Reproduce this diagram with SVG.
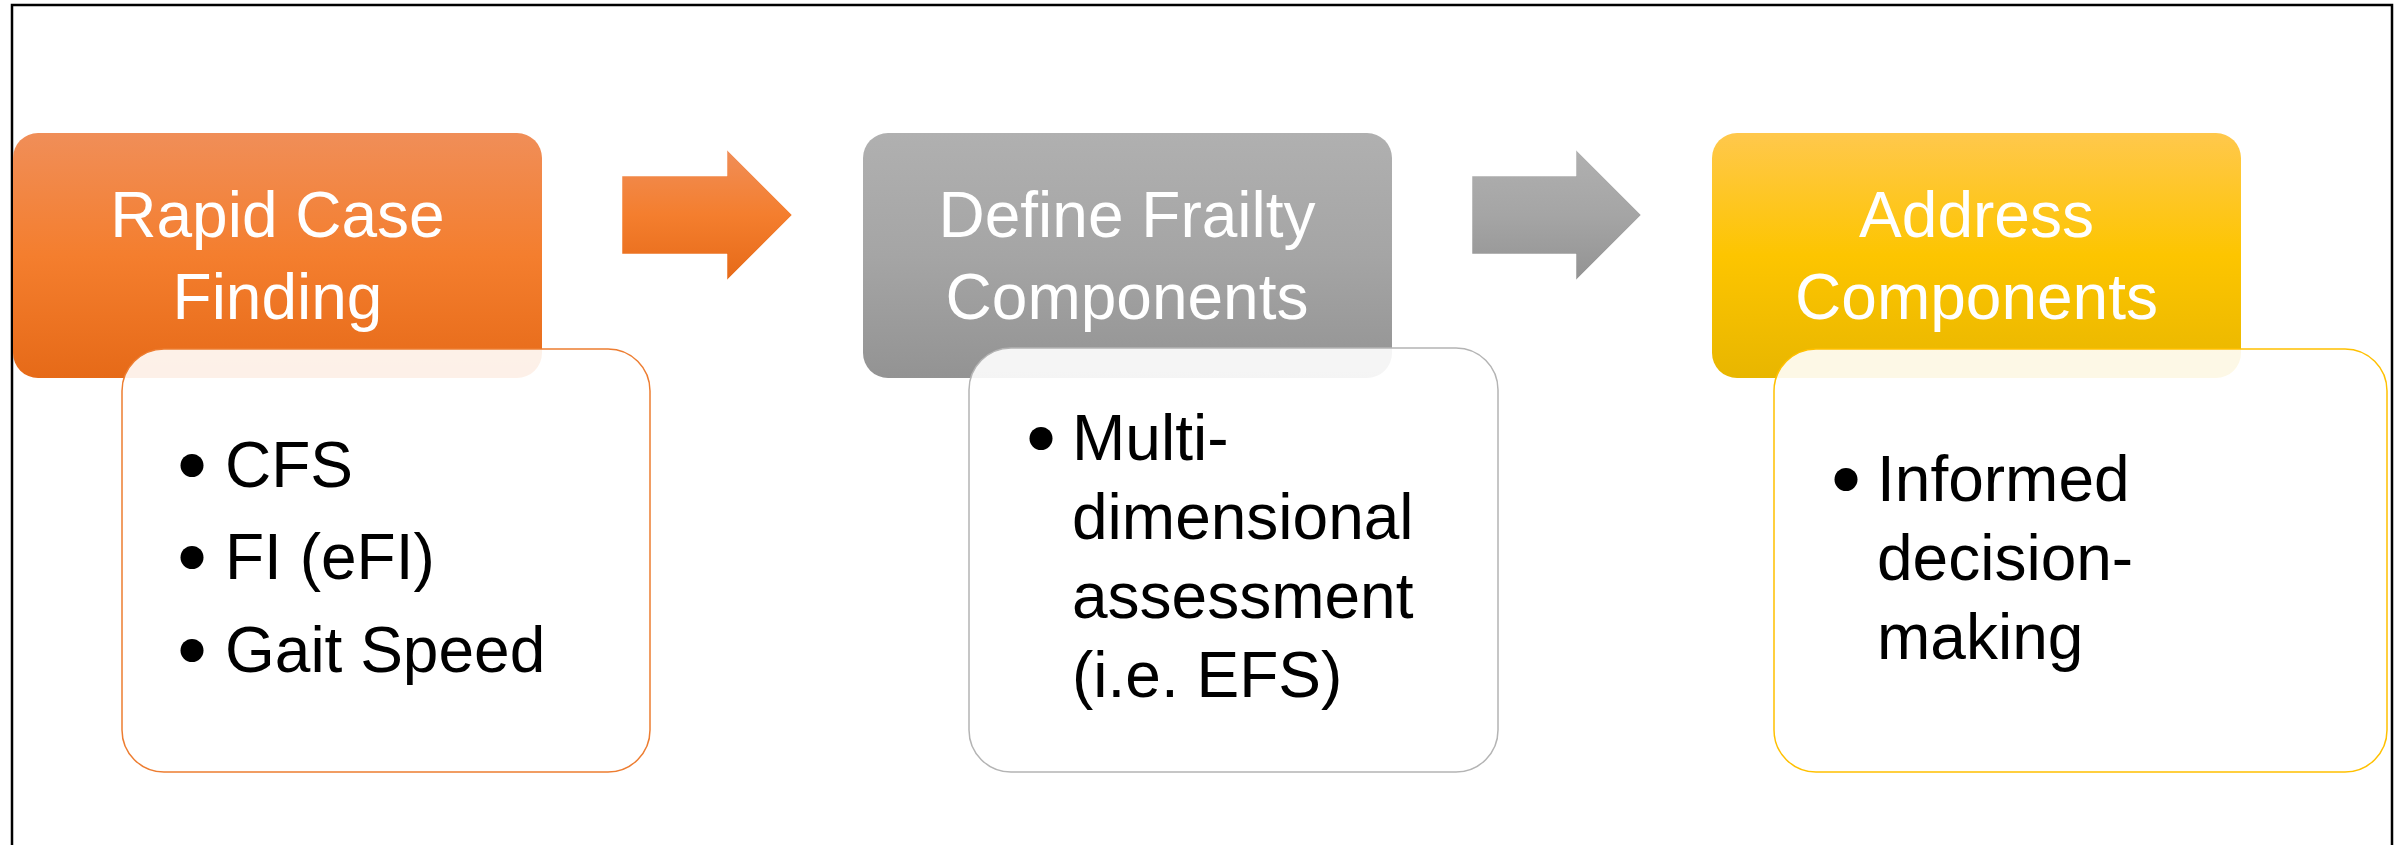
<svg xmlns="http://www.w3.org/2000/svg" width="2403" height="845" viewBox="0 0 2403 845">
  <defs>
    <linearGradient id="gOrange" x1="0" y1="0" x2="0" y2="1">
      <stop offset="0" stop-color="#F08E58"/>
      <stop offset="0.5" stop-color="#F47E2E"/>
      <stop offset="1" stop-color="#E66A18"/>
    </linearGradient>
    <linearGradient id="gGray" x1="0" y1="0" x2="0" y2="1">
      <stop offset="0" stop-color="#B0B0B0"/>
      <stop offset="0.5" stop-color="#A5A5A5"/>
      <stop offset="1" stop-color="#939393"/>
    </linearGradient>
    <linearGradient id="gYellow" x1="0" y1="0" x2="0" y2="1">
      <stop offset="0" stop-color="#FFC84C"/>
      <stop offset="0.5" stop-color="#FDC500"/>
      <stop offset="1" stop-color="#E8B600"/>
    </linearGradient>
    <style>
      .hdr { font-family: "Liberation Sans", Arial, sans-serif; font-size: 64px; fill: #FFFFFF; text-anchor: middle; }
      .body { font-family: "Liberation Sans", Arial, sans-serif; font-size: 64px; fill: #000000; }
      .box { fill: #FFFFFF; fill-opacity: 0.9; stroke-width: 1.5; }
      .arrow { stroke: #FFFFFF; stroke-opacity: 0.5; stroke-width: 1; }
    </style>
  </defs>

  <rect x="0" y="0" width="2403" height="845" fill="#FFFFFF"/>
  <path d="M12,850 V5 H2392 V850" fill="none" stroke="#000000" stroke-width="2.5"/>

  <g id="connectors">
    <path class="arrow" d="M622,176 H727 V150 L792,215 L727,280 V254 H622 Z" fill="url(#gOrange)"/>
    <path class="arrow" d="M1472,176 H1576 V150 L1641,215 L1576,280 V254 H1472 Z" fill="url(#gGray)"/>
  </g>

  <g id="rapid-case-finding">
    <rect x="13" y="133" width="529" height="245" rx="25" ry="25" fill="url(#gOrange)"/>
    <text class="hdr" x="277.5" y="237">Rapid Case</text>
    <text class="hdr" x="277.5" y="319">Finding</text>
  </g>
  <g id="rapid-case-finding-details">
    <rect class="box" x="122" y="349" width="528" height="423" rx="42" ry="42" stroke="#ED7D31"/>
    <circle cx="192" cy="465.5" r="11.5" fill="#000000"/>
    <text class="body" x="225" y="487">CFS</text>
    <circle cx="192" cy="557.5" r="11.5" fill="#000000"/>
    <text class="body" x="225" y="579">FI (eFI)</text>
    <circle cx="192" cy="650.5" r="11.5" fill="#000000"/>
    <text class="body" x="225" y="672">Gait Speed</text>
  </g>

  <g id="define-frailty-components">
    <rect x="863" y="133" width="529" height="245" rx="25" ry="25" fill="url(#gGray)"/>
    <text class="hdr" x="1127" y="237">Define Frailty</text>
    <text class="hdr" x="1127" y="319">Components</text>
  </g>
  <g id="define-frailty-components-details">
    <rect class="box" x="969" y="348" width="529" height="424" rx="42" ry="42" stroke="#B4B4B4"/>
    <circle cx="1041" cy="438.5" r="11.5" fill="#000000"/>
    <text class="body" x="1072" y="460">Multi-</text>
    <text class="body" x="1072" y="539">dimensional</text>
    <text class="body" x="1072" y="618">assessment</text>
    <text class="body" x="1072" y="697">(i.e. EFS)</text>
  </g>

  <g id="address-components">
    <rect x="1712" y="133" width="529" height="245" rx="25" ry="25" fill="url(#gYellow)"/>
    <text class="hdr" x="1976.5" y="237">Address</text>
    <text class="hdr" x="1976.5" y="319">Components</text>
  </g>
  <g id="address-components-details">
    <rect class="box" x="1774" y="349" width="613" height="423" rx="42" ry="42" stroke="#FFC000"/>
    <circle cx="1846" cy="479.5" r="11.5" fill="#000000"/>
    <text class="body" x="1877" y="501">Informed</text>
    <text class="body" x="1877" y="580">decision-</text>
    <text class="body" x="1877" y="659">making</text>
  </g>
</svg>
